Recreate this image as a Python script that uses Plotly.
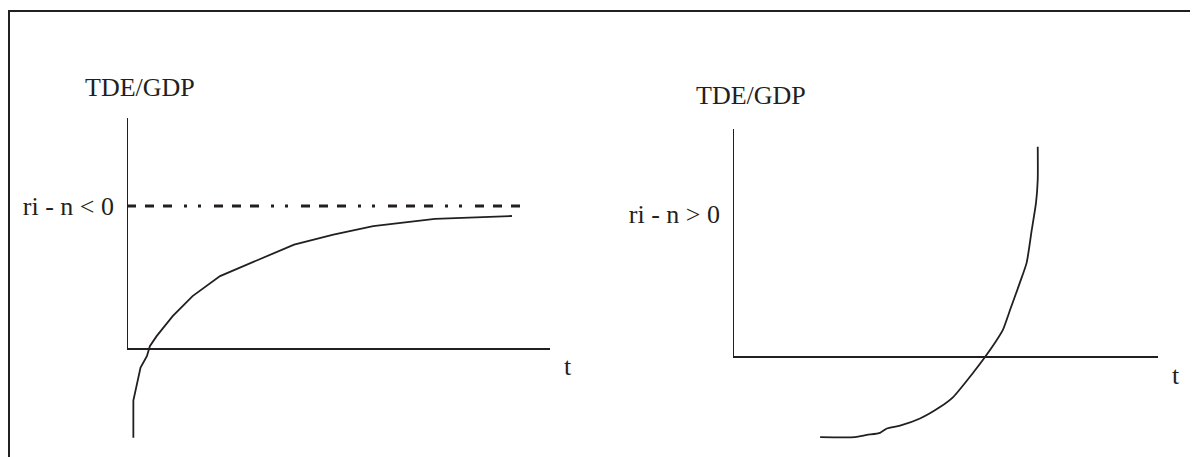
import plotly.graph_objects as go

W, H = 1198, 457
OFF = 8  # page body margin around the plot div
INK = "#231f20"
FONT = "Liberation Serif, Times New Roman, serif"

# left panel: debt ratio converges when ri - n < 0
left_t = [0.15, 0.15, 0.32, 0.47, 0.54, 0.70, 1.08, 1.55, 2.20, 3.07, 3.95, 4.88, 5.82, 7.28, 9.10]
left_ratio = [-0.62, -0.36, -0.13, -0.05, 0.02, 0.09, 0.23, 0.37, 0.51, 0.62, 0.73, 0.80, 0.86, 0.91, 0.93]
left_limit_t = [0, 9.48]
left_limit = [1.0, 1.0]
left_label = "ri - n < 0"

# right panel: debt ratio explodes when ri - n > 0
right_t = [2.05, 2.87, 3.15, 3.46, 3.62, 3.93, 4.40, 4.87, 5.18, 5.65, 5.93, 6.12,
           6.35, 6.52, 6.75, 6.91, 7.03, 7.13, 7.17, 7.17]
right_ratio = [-0.56, -0.56, -0.545, -0.53, -0.50, -0.48, -0.43, -0.35, -0.28, -0.11, 0.0, 0.08,
               0.19, 0.33, 0.52, 0.66, 0.89, 1.08, 1.24, 1.47]
right_label = "ri - n > 0"

y_title = "TDE/GDP"
x_title = "t"


def px_x(p):
    return (p - OFF) / W


def px_y(p):
    return 1 - (p - OFF) / H


fig = go.Figure()

fig.add_trace(go.Scatter(x=left_t, y=left_ratio, mode="lines",
                         line=dict(color=INK, width=1.8), xaxis="x", yaxis="y"))
fig.add_trace(go.Scatter(x=left_limit_t, y=left_limit, mode="lines",
                         line=dict(color=INK, width=3,
                                   dash="9px,9px,9px,9px,9px,12px,3px,11px,3px,13px"),
                         xaxis="x", yaxis="y"))
fig.add_trace(go.Scatter(x=right_t, y=right_ratio, mode="lines",
                         line=dict(color=INK, width=1.8, shape="spline", smoothing=0.6),
                         xaxis="x2", yaxis="y2"))

axis_common = dict(showgrid=False, showline=False, ticks="", fixedrange=True)

# panels: x axis runs from the y axis to its end, y scale 143 px per unit
fig.update_layout(
    width=W, height=H,
    margin=dict(l=0, r=0, t=0, b=0),
    plot_bgcolor="white", paper_bgcolor="white",
    showlegend=False,
    font=dict(family=FONT, color=INK, size=26),
    xaxis=dict(domain=[px_x(127), px_x(550)], range=[0, 10], showticklabels=False,
               zeroline=False, anchor="y", **axis_common),
    yaxis=dict(domain=[px_y(445), px_y(118)], range=[(349 - 445) / 143, (349 - 118) / 143],
               tickvals=[1.0], ticktext=[left_label], ticklabelstandoff=12,
               tickfont=dict(family=FONT, size=26, color=INK),
               zeroline=True, zerolinecolor=INK, zerolinewidth=2, anchor="x", **axis_common),
    xaxis2=dict(domain=[px_x(733), px_x(1158)], range=[0, 10], showticklabels=False,
                zeroline=False, anchor="y2", **axis_common),
    yaxis2=dict(domain=[px_y(445), px_y(129)], range=[(357 - 445) / 143, (357 - 129) / 143],
                tickvals=[1.0], ticktext=[right_label], ticklabelstandoff=12,
                tickfont=dict(family=FONT, size=26, color=INK),
                zeroline=True, zerolinecolor=INK, zerolinewidth=2, anchor="x2", **axis_common),
)

# vertical axes stop at zero
fig.add_shape(type="line", xref="x", yref="y", x0=0, x1=0, y0=0, y1=(349 - 118) / 143,
              line=dict(color=INK, width=2))
fig.add_shape(type="line", xref="x2", yref="y2", x0=0, x1=0, y0=0, y1=(357 - 129) / 143,
              line=dict(color=INK, width=2))

# frame (open at right and bottom, as cropped)
fig.add_shape(type="path", xref="paper", yref="paper",
              path=f"M {px_x(9)},{px_y(480)} L {px_x(9)},{px_y(11)} L {px_x(1220)},{px_y(11)}",
              line=dict(color=INK, width=2))

for cx, cy, txt in [(139.5, 87, y_title), (750.5, 95, y_title),
                    (568, 366, x_title), (1176, 375, x_title)]:
    fig.add_annotation(x=px_x(cx), y=px_y(cy), xref="paper", yref="paper",
                       text=txt, showarrow=False, xanchor="center", yanchor="middle",
                       font=dict(family=FONT, size=26, color=INK))

fig.write_html("out.html")
